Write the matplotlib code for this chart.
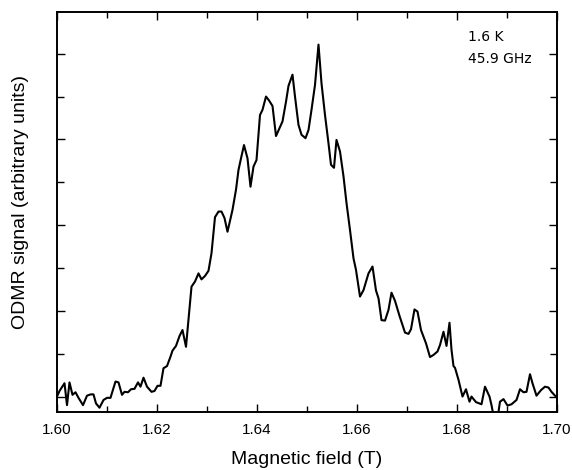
import matplotlib
matplotlib.use("Agg")
import matplotlib.pyplot as plt
from matplotlib.ticker import MultipleLocator, NullFormatter

plt.rcParams['font.family'] = ['Liberation Sans', 'DejaVu Sans']

# Field (T) and ODMR signal (arbitrary units)
field = [
    1.6000, 1.6005, 1.6015, 1.6020, 1.6025, 1.6031, 1.6037, 1.6043, 1.6052, 1.6060,
    1.6067, 1.6073, 1.6078, 1.6085, 1.6093, 1.6100, 1.6107, 1.6117, 1.6123, 1.6130,
    1.6135, 1.6142, 1.6148, 1.6155, 1.6162, 1.6167, 1.6173, 1.6180, 1.6189, 1.6195,
    1.6201, 1.6207, 1.6213, 1.6220, 1.6227, 1.6231, 1.6238, 1.6245, 1.6251, 1.6258,
    1.6269, 1.6276, 1.6283, 1.6289, 1.6296, 1.6303, 1.6309, 1.6316, 1.6323, 1.6329,
    1.6335, 1.6341, 1.6351, 1.6358, 1.6363, 1.6368, 1.6374, 1.6381, 1.6387, 1.6393,
    1.6399, 1.6406, 1.6411, 1.6418, 1.6424, 1.6431, 1.6438, 1.6445, 1.6451, 1.6458,
    1.6463, 1.6471, 1.6476, 1.6483, 1.6489, 1.6497, 1.6503, 1.6509, 1.6516, 1.6523,
    1.6529, 1.6536, 1.6543, 1.6548, 1.6554, 1.6559, 1.6566, 1.6573, 1.6579, 1.6586,
    1.6593, 1.6598, 1.6606, 1.6613, 1.6623, 1.6631, 1.6638, 1.6643, 1.6649, 1.6656,
    1.6663, 1.6669, 1.6676, 1.6685, 1.6696, 1.6703, 1.6708, 1.6715, 1.6721, 1.6728,
    1.6738, 1.6746, 1.6753, 1.6761, 1.6766, 1.6773, 1.6779, 1.6785, 1.6789, 1.6793,
    1.6796, 1.6803, 1.6811, 1.6818, 1.6825, 1.6829, 1.6838, 1.6849, 1.6856, 1.6865,
    1.6869, 1.6874, 1.6881, 1.6886, 1.6893, 1.6901, 1.6909, 1.6919, 1.6926, 1.6933,
    1.6939, 1.6946, 1.6951, 1.6959, 1.6968, 1.6976, 1.6983, 1.6989, 1.6996, 1.7000,
]
signal = [
    0.01, 0.14, 0.32, -0.19, 0.34, 0.05, 0.11, -0.02, -0.19, 0.03,
    0.06, 0.06, -0.15, -0.25, -0.07, -0.02, -0.02, 0.36, 0.34, 0.05,
    0.12, 0.11, 0.18, 0.19, 0.34, 0.24, 0.45, 0.24, 0.12, 0.14,
    0.26, 0.26, 0.67, 0.72, 0.94, 1.08, 1.19, 1.42, 1.56, 1.17,
    2.57, 2.69, 2.88, 2.74, 2.82, 2.94, 3.35, 4.19, 4.32, 4.32,
    4.17, 3.85, 4.36, 4.83, 5.29, 5.56, 5.87, 5.56, 4.90, 5.37,
    5.52, 6.57, 6.69, 7.00, 6.91, 6.78, 6.08, 6.26, 6.42, 6.88,
    7.25, 7.51, 7.00, 6.34, 6.11, 6.03, 6.22, 6.69, 7.27, 8.21,
    7.31, 6.57, 5.91, 5.41, 5.34, 5.99, 5.72, 5.14, 4.52, 3.89,
    3.23, 2.96, 2.34, 2.49, 2.88, 3.04, 2.48, 2.30, 1.79, 1.78,
    2.03, 2.43, 2.24, 1.89, 1.50, 1.47, 1.58, 2.04, 1.99, 1.56,
    1.25, 0.93, 0.98, 1.06, 1.21, 1.52, 1.19, 1.73, 1.10, 0.72,
    0.68, 0.40, 0.01, 0.18, -0.11, 0.01, -0.12, -0.17, 0.24, 0.01,
    -0.19, -0.50, -0.50, -0.11, -0.05, -0.20, -0.17, -0.07, 0.18, 0.11,
    0.12, 0.53, 0.32, 0.03, 0.16, 0.24, 0.22, 0.12, 0.03, 0.01,
]
x_ticks = [1.60, 1.62, 1.64, 1.66, 1.68, 1.70]
conditions = ["1.6 K", "45.9 GHz"]

fig = plt.figure(figsize=(5.72, 4.70), dpi=100)
ax = fig.add_axes([57 / 572, 1 - 412 / 470, 500 / 572, 400 / 470])

ax.plot(field, signal, color="black", linewidth=1.5)

ax.set_xlim(1.60, 1.70)
ax.set_ylim(-0.35, 8.97)
ax.set_xticks(x_ticks)
ax.set_xticklabels([f"{t:.2f}" for t in x_ticks])
ax.xaxis.set_minor_locator(MultipleLocator(0.01))
ax.yaxis.set_major_locator(MultipleLocator(2))
ax.yaxis.set_minor_locator(MultipleLocator(1))
ax.yaxis.set_major_formatter(NullFormatter())

ax.tick_params(which="both", direction="in", top=True, right=True, width=1.0)
ax.tick_params(which="major", length=5.8, labelsize=11, pad=8)
ax.tick_params(which="minor", length=4.2)
ax.tick_params(axis="y", which="minor", length=5.0)
for sp in ax.spines.values():
    sp.set_linewidth(1.4)

ax.set_xlabel("Magnetic field (T)", fontsize=14, labelpad=10)
ax.set_ylabel("ODMR signal (arbitrary units)", fontsize=14)
ax.yaxis.set_label_coords(-(57 - 29) / 500, (412 - 202) / 400)

ax.text(468, 470 - 37, conditions[0], transform=None, fontsize=10,
        family="DejaVu Sans", va="center", ha="left")
ax.text(468, 470 - 59, conditions[1], transform=None, fontsize=10,
        family="DejaVu Sans", va="center", ha="left")

fig.savefig("out.png", dpi=100)
